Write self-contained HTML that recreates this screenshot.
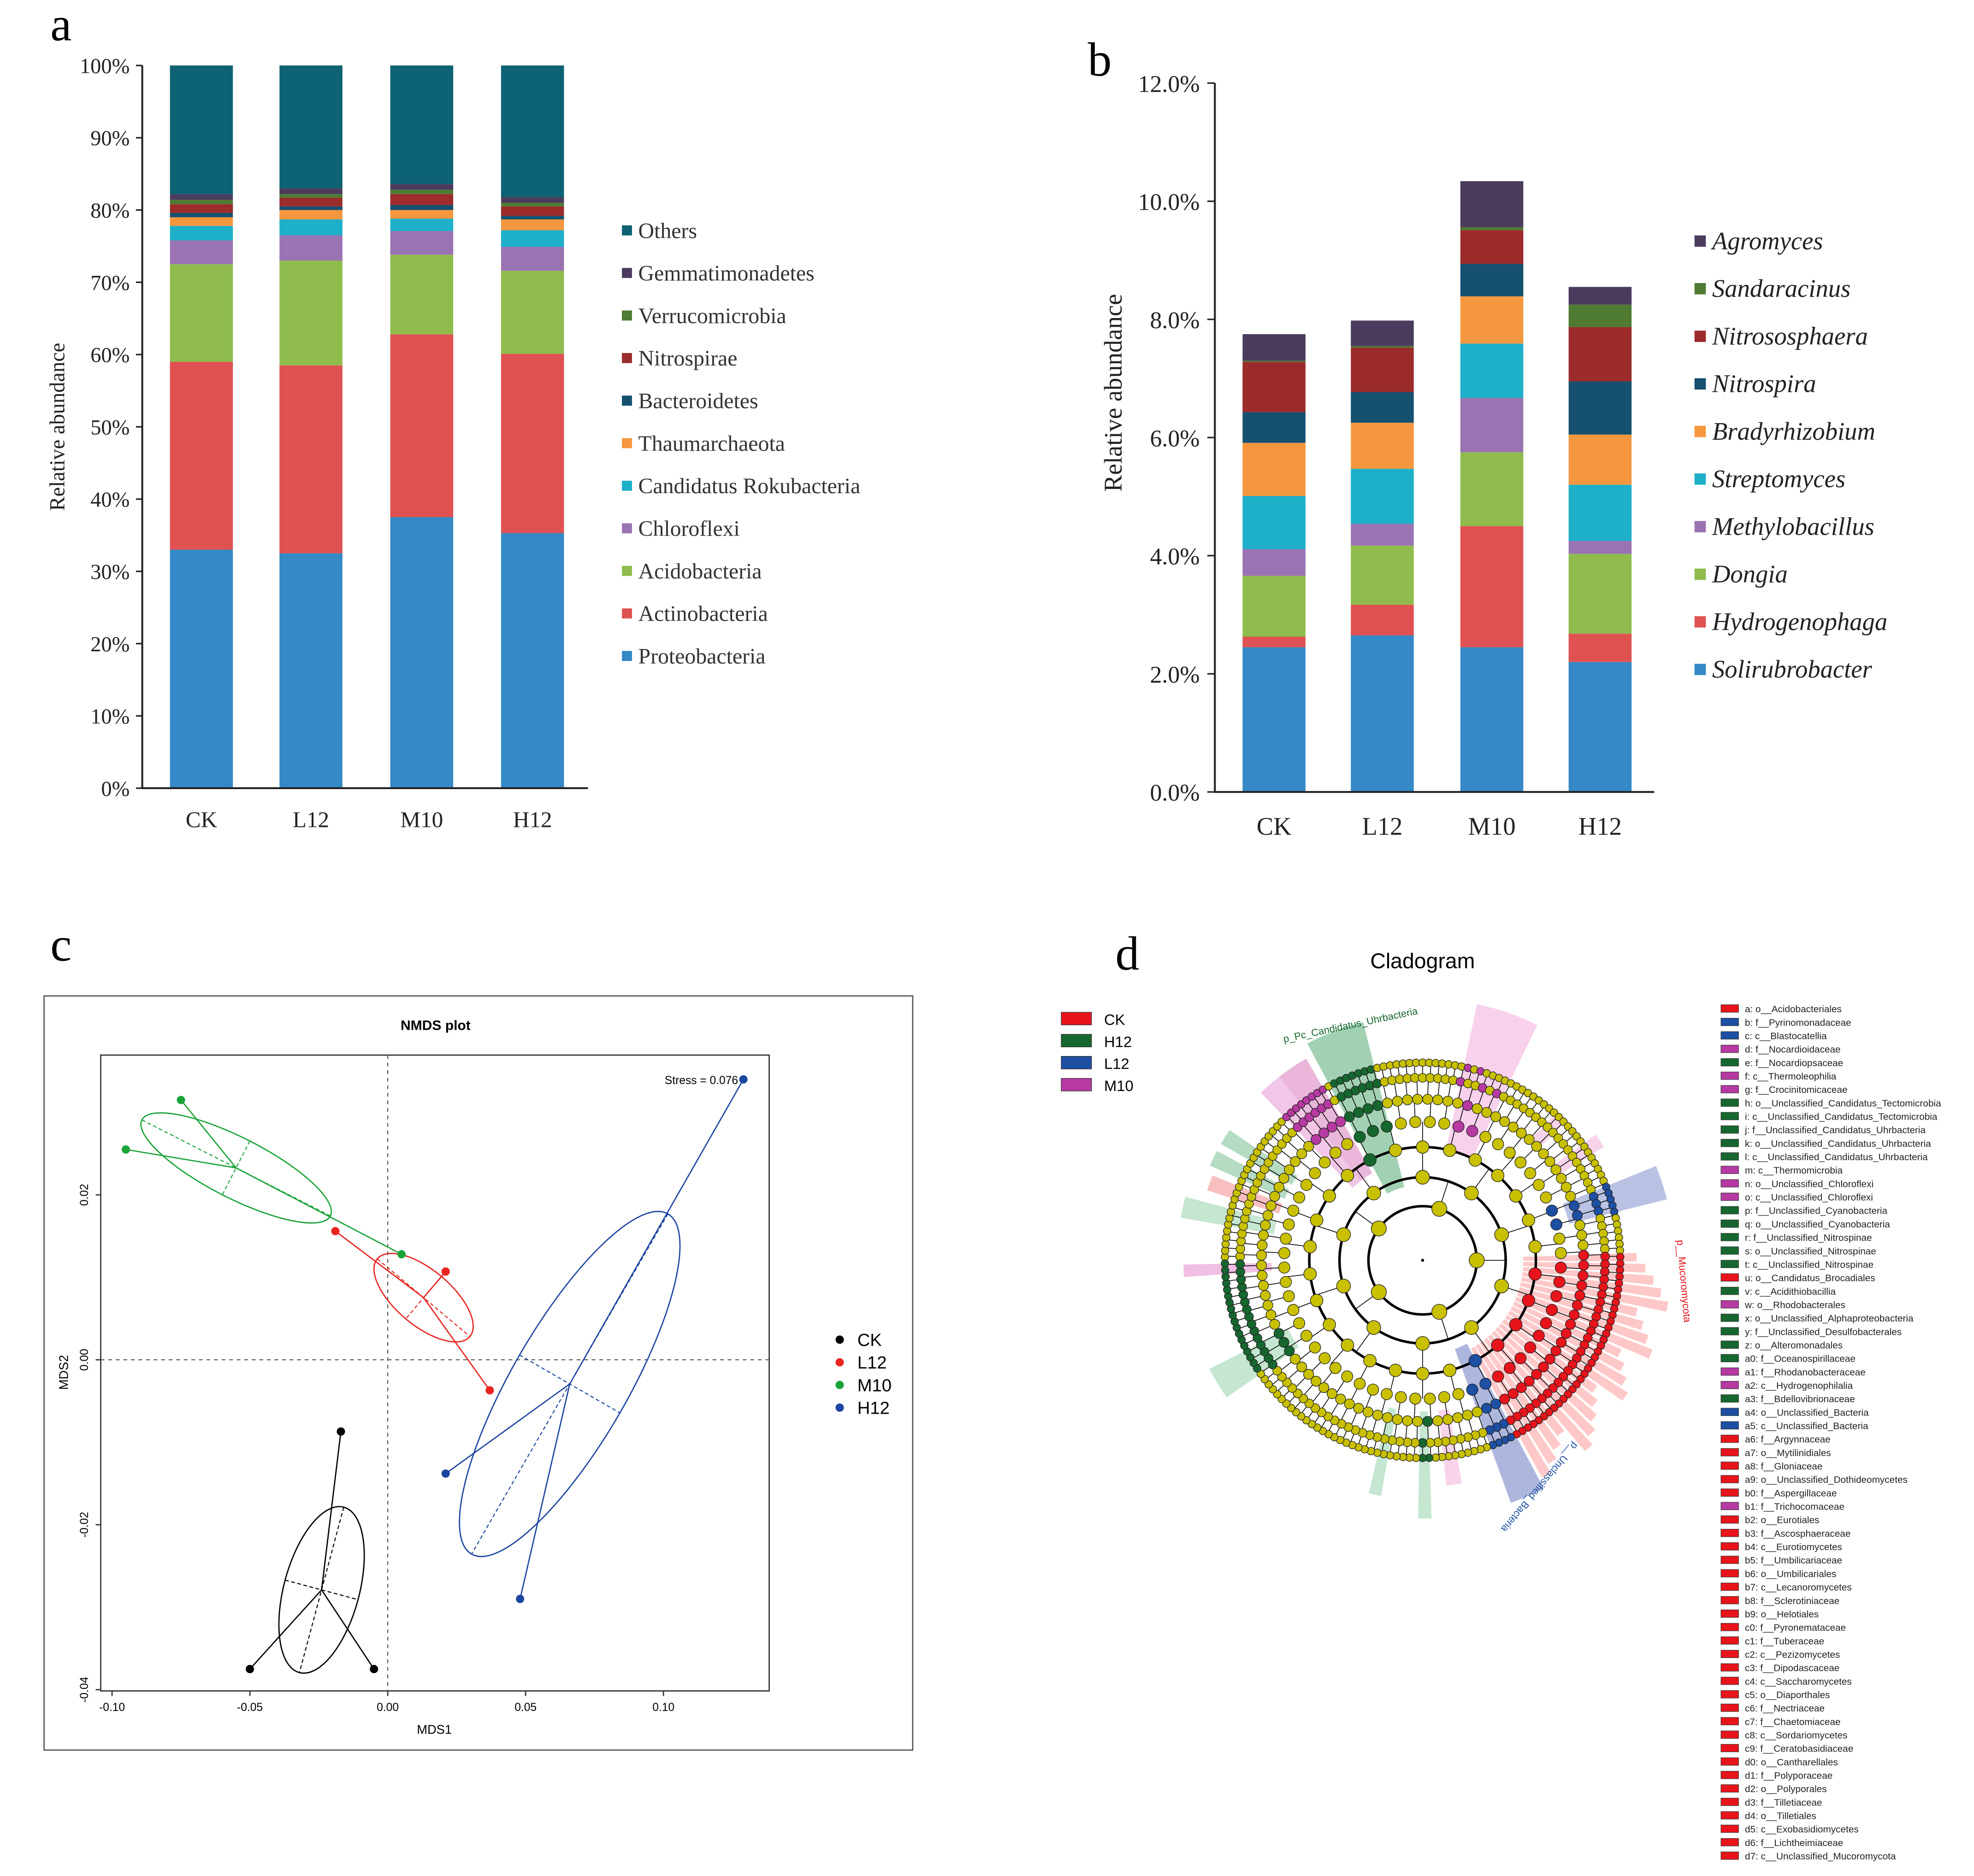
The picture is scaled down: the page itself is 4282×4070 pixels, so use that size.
<!DOCTYPE html>
<html><head><meta charset="utf-8"><style>
html,body{margin:0;padding:0;background:#fff}
svg{display:block}
</style></head><body>
<svg id="fig" xmlns="http://www.w3.org/2000/svg" width="4282" height="4070" viewBox="0 0 1568 1490" preserveAspectRatio="none">
<rect x="0" y="0" width="1568" height="1490" fill="#fff"/>
<g id="pa"></g>
<g id="pb"></g>
<g id="pc"></g>
<g id="pd"></g>
</svg>
<script>
// ---------- Panel A data ----------
const aCategories = ["CK","L12","M10","H12"];
const aSeriesNames = ["Proteobacteria","Actinobacteria","Acidobacteria","Chloroflexi","Candidatus Rokubacteria","Thaumarchaeota","Bacteroidetes","Nitrospirae","Verrucomicrobia","Gemmatimonadetes","Others"];
const aProteo = [33.0,32.5,37.5,35.3];
const aActino = [26.0,26.0,25.3,24.8];
const aAcido = [13.5,14.5,11.0,11.5];
const aChloro = [3.3,3.5,3.3,3.3];
const aRoku = [2.0,2.2,1.7,2.3];
const aThaum = [1.2,1.3,1.2,1.5];
const aBacte = [0.6,0.5,0.7,0.5];
const aNitro = [1.2,1.2,1.5,1.3];
const aVerru = [0.6,0.5,0.6,0.5];
const aGemma = [0.8,0.8,0.8,0.8];
const aOthers = [17.8,17.0,16.4,18.2];
const aTicks = ["0%","10%","20%","30%","40%","50%","60%","70%","80%","90%","100%"];
const aColors = ["#3489c6","#e05252","#8fbc4c","#9a73b2","#1eafc9","#f5973e","#15506f","#9c2b2b","#4f7b33","#4b3c5e","#0d6274"];

// ---------- Panel B data ----------
const bCategories = ["CK","L12","M10","H12"];
const bSeriesNames = ["Solirubrobacter","Hydrogenophaga","Dongia","Methylobacillus","Streptomyces","Bradyrhizobium","Nitrospira","Nitrososphaera","Sandaracinus","Agromyces"];
const bSoli = [2.45,2.65,2.45,2.20];
const bHydro = [0.18,0.52,2.05,0.48];
const bDongia = [1.03,1.00,1.25,1.35];
const bMethyl = [0.45,0.37,0.92,0.22];
const bStrep = [0.90,0.93,0.92,0.95];
const bBrady = [0.90,0.78,0.80,0.85];
const bNitrospira = [0.52,0.52,0.55,0.90];
const bNitroso = [0.85,0.75,0.57,0.92];
const bSand = [0.02,0.03,0.05,0.38];
const bAgro = [0.45,0.43,0.78,0.30];
const bTicks = ["0.0%","2.0%","4.0%","6.0%","8.0%","10.0%","12.0%"];
const bTickVals = [0,2,4,6,8,10,12];
const bColors = ["#3489c6","#e05252","#8fbc4c","#9a73b2","#1eafc9","#f5973e","#15506f","#9c2b2b","#4f7b33","#4b3c5e"];

// ---------- Panel C data ----------
const cGroups = ["CK","L12","M10","H12"];
const cGroupColors = ["#000000","#e8241f","#1aa338","#1b45a0"];
const cX_CK = [-0.050,-0.005,-0.017];
const cY_CK = [-0.0375,-0.0375,-0.0087];
const cX_L12 = [-0.019,0.021,0.037];
const cY_L12 = [0.0156,0.0107,-0.0037];
const cX_M10 = [-0.075,-0.095,0.005];
const cY_M10 = [0.0315,0.0255,0.0128];
const cX_H12 = [0.129,0.021,0.048];
const cY_H12 = [0.0340,-0.0138,-0.0290];
const cXTicks = [-0.10,-0.05,0.00,0.05,0.10];
const cYTicks = [-0.04,-0.02,0.00,0.02];

// ---------- Panel D legend data ----------
const dGroups = ["CK","H12","L12","M10"];
const dLegendLabels = ["a: o__Acidobacteriales","b: f__Pyrinomonadaceae","c: c__Blastocatellia","d: f__Nocardioidaceae","e: f__Nocardiopsaceae","f: c__Thermoleophilia","g: f__Crocinitomicaceae","h: o__Unclassified_Candidatus_Tectomicrobia","i: c__Unclassified_Candidatus_Tectomicrobia","j: f__Unclassified_Candidatus_Uhrbacteria","k: o__Unclassified_Candidatus_Uhrbacteria","l: c__Unclassified_Candidatus_Uhrbacteria","m: c__Thermomicrobia","n: o__Unclassified_Chloroflexi","o: c__Unclassified_Chloroflexi","p: f__Unclassified_Cyanobacteria","q: o__Unclassified_Cyanobacteria","r: f__Unclassified_Nitrospinae","s: o__Unclassified_Nitrospinae","t: c__Unclassified_Nitrospinae","u: o__Candidatus_Brocadiales","v: c__Acidithiobacillia","w: o__Rhodobacterales","x: o__Unclassified_Alphaproteobacteria","y: f__Unclassified_Desulfobacterales","z: o__Alteromonadales","a0: f__Oceanospirillaceae","a1: f__Rhodanobacteraceae","a2: c__Hydrogenophilalia","a3: f__Bdellovibrionaceae","a4: o__Unclassified_Bacteria","a5: c__Unclassified_Bacteria","a6: f__Argynnaceae","a7: o__Mytilinidiales","a8: f__Gloniaceae","a9: o__Unclassified_Dothideomycetes","b0: f__Aspergillaceae","b1: f__Trichocomaceae","b2: o__Eurotiales","b3: f__Ascosphaeraceae","b4: c__Eurotiomycetes","b5: f__Umbilicariaceae","b6: o__Umbilicariales","b7: c__Lecanoromycetes","b8: f__Sclerotiniaceae","b9: o__Helotiales","c0: f__Pyronemataceae","c1: f__Tuberaceae","c2: c__Pezizomycetes","c3: f__Dipodascaceae","c4: c__Saccharomycetes","c5: o__Diaporthales","c6: f__Nectriaceae","c7: f__Chaetomiaceae","c8: c__Sordariomycetes","c9: f__Ceratobasidiaceae","d0: o__Cantharellales","d1: f__Polyporaceae","d2: o__Polyporales","d3: f__Tilletiaceae","d4: o__Tilletiales","d5: c__Exobasidiomycetes","d6: f__Lichtheimiaceae","d7: c__Unclassified_Mucoromycota"];
const dLegendGroup = [0,2,2,3,1,3,3,1,1,1,1,1,3,3,3,1,1,1,1,1,0,1,3,1,1,1,1,3,3,1,2,2,0,0,0,0,0,3,0,0,0,0,0,0,0,0,0,0,0,0,0,0,0,0,0,0,0,0,0,0,0,0,0,0];
const dColors = ["#e8141b","#16672f","#1d4fa3","#b63aa2"];

const NS="http://www.w3.org/2000/svg";
function mk(parent,tag,attrs,text){const e=document.createElementNS(NS,tag);for(const k in attrs)e.setAttribute(k,attrs[k]);if(text!==undefined)e.textContent=text;parent.appendChild(e);return e;}

// ================= PANEL A =================
(function(){
const g=document.getElementById('pa');
const serif='"Liberation Serif",serif';
const lab=mk(g,'text',{x:40,y:32,'font-family':serif,'font-size':38},'a');

const x0=113,yB=626,yT=52;
const ys=v=>yB-(v/100)*(yB-yT);
const xc=[160,247,335,423];
const bw=50;
const series=[aProteo,aActino,aAcido,aChloro,aRoku,aThaum,aBacte,aNitro,aVerru,aGemma,aOthers];
aCategories.forEach((c,i)=>{
  let acc=0;
  series.forEach((s,k)=>{
    const r=mk(g,'rect',{x:xc[i]-bw/2,y:ys(acc+s[i]),width:bw,height:ys(acc)-ys(acc+s[i]),fill:aColors[k]});
    
    
    acc+=s[i];
  });
  const t=mk(g,'text',{x:xc[i],y:657,'text-anchor':'middle','font-family':serif,'font-size':18,fill:'#222'},c);
  
});
const ax=mk(g,'path',{d:`M${x0} ${yT}V${yB}H467`,stroke:'#222','stroke-width':1.5,fill:'none'});

aTicks.forEach((t,i)=>{
  const y=ys(i*10);
  const tk=mk(g,'line',{x1:x0-5,x2:x0,y1:y,y2:y,stroke:'#222','stroke-width':1.2});
  
  const tt=mk(g,'text',{x:x0-10,y:y+6,'text-anchor':'end','font-family':serif,'font-size':17,fill:'#222'},t);
  
});
const yt=mk(g,'text',{x:51,y:339,transform:'rotate(-90 51 339)','text-anchor':'middle','font-family':serif,'font-size':17,fill:'#222'},'Relative abundance');

for(let k=aSeriesNames.length-1;k>=0;k--){
  const y=183+(aSeriesNames.length-1-k)*33.8;
  const le=mk(g,'g',{});
  
  mk(le,'rect',{x:494,y:y-4,width:8,height:8,fill:aColors[k]});
  mk(le,'text',{x:507,y:y+6,'font-family':serif,'font-size':17.5,fill:'#333'},aSeriesNames[k]);
}
})();

// ================= PANEL B =================
(function(){
const g=document.getElementById('pb');
const serif='"Liberation Serif",serif';
const lab=mk(g,'text',{x:864,y:60,'font-family':serif,'font-size':38},'b');

const x0=965,yB=629,yT=66;
const ys=v=>yB-(v/12)*(yB-yT);
const xc=[1012,1098,1185,1271];
const bw=50;
const series=[bSoli,bHydro,bDongia,bMethyl,bStrep,bBrady,bNitrospira,bNitroso,bSand,bAgro];
bCategories.forEach((c,i)=>{
  let acc=0;
  series.forEach((s,k)=>{
    const r=mk(g,'rect',{x:xc[i]-bw/2,y:ys(acc+s[i]),width:bw,height:ys(acc)-ys(acc+s[i]),fill:bColors[k]});
    
    
    acc+=s[i];
  });
  const t=mk(g,'text',{x:xc[i],y:663,'text-anchor':'middle','font-family':serif,'font-size':20,fill:'#222'},c);
  
});
const ax=mk(g,'path',{d:`M${x0} ${yT}V${yB}H1314`,stroke:'#222','stroke-width':1.5,fill:'none'});

bTicks.forEach((t,i)=>{
  const y=ys(bTickVals[i]);
  const tk=mk(g,'line',{x1:x0-6,x2:x0,y1:y,y2:y,stroke:'#222','stroke-width':1.2});
  
  const tt=mk(g,'text',{x:x0-12,y:y+7,'text-anchor':'end','font-family':serif,'font-size':19,fill:'#222'},t);
  
});
const yt=mk(g,'text',{x:891,y:312,transform:'rotate(-90 891 312)','text-anchor':'middle','font-family':serif,'font-size':20,fill:'#222'},'Relative abundance');

for(let k=bSeriesNames.length-1;k>=0;k--){
  const y=192+(bSeriesNames.length-1-k)*37.8;
  const le=mk(g,'g',{});
  
  mk(le,'rect',{x:1346,y:y-5,width:9,height:9,fill:bColors[k]});
  mk(le,'text',{x:1360,y:y+6,'font-family':serif,'font-style':'italic','font-size':20,fill:'#222'},bSeriesNames[k]);
}
})();

// ================= PANEL C =================
(function(){
const g=document.getElementById('pc');
const sans='"Liberation Sans",sans-serif';
const lab=mk(g,'text',{x:40,y:763,'font-family':'"Liberation Serif",serif','font-size':38},'c');

const fr=mk(g,'rect',{x:35,y:791,width:690,height:599,fill:'#fff',stroke:'#555','stroke-width':1});

const pr=mk(g,'rect',{x:80,y:838,width:531,height:505,fill:'none',stroke:'#333','stroke-width':1});

const X=v=>308+v*2190, Y=v=>1080-v*6550;
const ti=mk(g,'text',{x:346,y:818,'text-anchor':'middle','font-family':sans,'font-weight':'bold','font-size':11},'NMDS plot');

const zx=mk(g,'line',{x1:X(0),x2:X(0),y1:838,y2:1343,stroke:'#555','stroke-dasharray':'3,3','stroke-width':0.8});

const zy=mk(g,'line',{x1:80,x2:611,y1:Y(0),y2:Y(0),stroke:'#555','stroke-dasharray':'3,3','stroke-width':0.8});

cXTicks.forEach(v=>{
  const tk=mk(g,'line',{x1:X(v),x2:X(v),y1:1343,y2:1347,stroke:'#333'});
  
  const t=mk(g,'text',{x:X(v),y:1359,'text-anchor':'middle','font-family':sans,'font-size':9},v.toFixed(2));
  
});
cYTicks.forEach(v=>{
  const tk=mk(g,'line',{x1:76,x2:80,y1:Y(v),y2:Y(v),stroke:'#333'});
  
  const t=mk(g,'text',{x:70,y:Y(v),transform:`rotate(-90 70 ${Y(v)})`,'text-anchor':'middle','font-family':sans,'font-size':9},v.toFixed(2));
  
});
const xl=mk(g,'text',{x:345,y:1377,'text-anchor':'middle','font-family':sans,'font-size':10},'MDS1');

const yl=mk(g,'text',{x:54,y:1090,transform:'rotate(-90 54 1090)','text-anchor':'middle','font-family':sans,'font-size':10},'MDS2');

const st=mk(g,'text',{x:528,y:861,'font-family':sans,'font-size':9},'Stress = 0.076');

const xs=[cX_CK,cX_L12,cX_M10,cX_H12], yv=[cY_CK,cY_L12,cY_M10,cY_H12];
const ell=[[30,68,15],[48,22,40],[84,24,27],[46,156,30]];
cGroups.forEach((gname,i)=>{
  const grp=mk(g,'g',{});
  
  const col=cGroupColors[i];
  const px=xs[i].map(X), py=yv[i].map(Y);
  const cx=px.reduce((a,b)=>a+b)/px.length, cy=py.reduce((a,b)=>a+b)/py.length;
  const [rx,ry,rot]=ell[i];
  const e=mk(grp,'ellipse',{cx:cx,cy:cy,rx:rx,ry:ry,transform:`rotate(${rot} ${cx} ${cy})`,fill:'none',stroke:col,'stroke-width':1});
  
  const rad=rot*Math.PI/180;
  mk(grp,'line',{x1:cx-rx*Math.cos(rad),y1:cy-rx*Math.sin(rad),x2:cx+rx*Math.cos(rad),y2:cy+rx*Math.sin(rad),stroke:col,'stroke-dasharray':'3,2','stroke-width':0.8});
  mk(grp,'line',{x1:cx+ry*Math.sin(rad),y1:cy-ry*Math.cos(rad),x2:cx-ry*Math.sin(rad),y2:cy+ry*Math.cos(rad),stroke:col,'stroke-dasharray':'3,2','stroke-width':0.8});
  px.forEach((x,k)=>{
    const l=mk(grp,'line',{x1:cx,y1:cy,x2:x,y2:py[k],stroke:col,'stroke-width':1});
    
    const p=mk(grp,'circle',{cx:x,cy:py[k],r:3.3,fill:col});
    
  });
  const le=mk(g,'g',{});
  
  mk(le,'circle',{cx:667,cy:1064+i*18,r:3.3,fill:col});
  mk(le,'text',{x:681,y:1069+i*18,'font-family':sans,'font-size':14},gname);
});
})();

// ================= PANEL D =================
(function(){
const g=document.getElementById('pd');
const sans='"Liberation Sans",sans-serif';
const lab=mk(g,'text',{x:886,y:770,'font-family':'"Liberation Serif",serif','font-size':38},'d');

const ti=mk(g,'text',{x:1130,y:769,'text-anchor':'middle','font-family':sans,'font-size':17},'Cladogram');

dGroups.forEach((n,i)=>{
  const le=mk(g,'g',{});
  
  mk(le,'rect',{x:843,y:804+i*17.5,width:24,height:10,fill:dColors[i],stroke:'#333','stroke-width':0.5});
  mk(le,'text',{x:877,y:814+i*17.5,'font-family':sans,'font-size':12},n);
});
dLegendLabels.forEach((t,i)=>{
  const y=801+i*10.68;
  const le=mk(g,'g',{});
  
  mk(le,'rect',{x:1367,y:y-3,width:14,height:6,fill:dColors[dLegendGroup[i]],stroke:'#333','stroke-width':0.4});
  mk(le,'text',{x:1386,y:y+3,'font-family':sans,'font-size':7.6,fill:'#222'},t);
});
// cladogram
const cx=1130,cy=1001;
const clad=mk(g,'g',{});

const pol=(r,a)=>[cx+r*Math.cos(a*Math.PI/180),cy+r*Math.sin(a*Math.PI/180)];
function sector(a0,a1,col,ri,ro,op){
  const [x1,y1]=pol(ri,a0),[x2,y2]=pol(ro,a0),[x3,y3]=pol(ro,a1),[x4,y4]=pol(ri,a1);
  const p=mk(clad,'path',{d:`M${x1} ${y1}L${x2} ${y2}A${ro} ${ro} 0 0 1 ${x3} ${y3}L${x4} ${y4}A${ri} ${ri} 0 0 0 ${x1} ${y1}Z`,fill:col,opacity:op});
  
}
// red fungal block: many narrow strips
for(let k=0;k<22;k++){const a=-2+k*2.9;sector(a,a+2.3,'#ff3b3b',80,170+((k*7)%30),0.28);}
const sectors=[[62,70,'#4a5fb5',75,205],[-22,-14,'#6677c4',120,200],[-112,-104,'#2f9a55',60,195],[-118,-112,'#2f9a55',60,195],[-128,-120,'#d060b0',80,185],[-134,-128,'#e080c8',80,185],[-78,-64,'#f09ad4',90,208],[-150,-146,'#5cb07a',120,185],[-156,-152,'#5cb07a',120,185],[-162,-158,'#f07070',120,180],[-170,-165,'#7ec89a',120,195],[-184,-181,'#e070c0',120,190],[145,153,'#7ec89a',120,190],[100,103,'#7ec89a',120,190],[80,84,'#f0a0d0',120,180],[88,91,'#7ec89a',120,205],[-36,-32,'#f0a0d0',130,170],[-48,-44,'#f0a0d0',130,160]];
sectors.forEach(([a0,a1,col,ri,ro])=>sector(a0,a1,col,ri,ro,0.45));
[43,66,90].forEach(r=>mk(clad,'circle',{cx,cy,r,fill:'none',stroke:'#000','stroke-width':2}));
const rings=[43,66,90,110,128,145,157];
const counts=[5,10,26,60,100,150,190];
const colorAt=(a,r)=>{
  if(a>=-2&&a<=62&&r>80)return dColors[0];
  if((a>=62&&a<=70&&r>60)||(a>=-22&&a<=-14&&r>100))return dColors[2];
  if((a>=150&&a<=215&&r>140)||(a>=-118&&a<=-104&&r>60)||(a>=88&&a<=91&&r>120)||(a>=145&&a<=153&&r>120))return dColors[1];
  if((a>=-78&&a<=-64&&r>100&&((a*7|0)%3===0))||(a>=-134&&a<=-120&&r>120))return dColors[3];
  return '#c8c000';
};
rings.forEach((r,ri)=>{
  const n=counts[ri];
  for(let k=0;k<n;k++){
    const a=-180+(k+0.5)*360/n;
    if(ri<6){const [x1,y1]=pol(r,a),[x2,y2]=pol(rings[ri+1],a);mk(clad,'line',{x1,y1,x2,y2,stroke:'#000','stroke-width':0.6});}
  }
});
rings.forEach((r,ri)=>{
  const n=counts[ri];
  const rad=[6,5.5,5,4.5,4,3.5,3][ri];
  for(let k=0;k<n;k++){
    const a=-180+(k+0.5)*360/n;
    const [x,y]=pol(r,a);
    const c=mk(clad,'circle',{cx:x,cy:y,r:rad,fill:colorAt(a,r),stroke:'#222','stroke-width':0.5});
    
  }
});
mk(clad,'circle',{cx,cy,r:1.2,fill:'#000'});
const t1=mk(g,'text',{x:1020,y:828,transform:'rotate(-12 1020 828)','font-family':sans,'font-size':8,fill:'#16672f'},'p_Pc_Candidatus_Uhrbacteria');

const t2=mk(g,'text',{x:1332,y:985,transform:'rotate(85 1332 985)','font-family':sans,'font-size':8,fill:'#e8141b'},'p__Mucoromycota');

const t3=mk(g,'text',{x:1250,y:1145,transform:'rotate(130 1250 1145)','font-family':sans,'font-size':8,fill:'#1d4fa3'},'p__Unclassified_Bacteria');

})();
</script>
</body></html>
